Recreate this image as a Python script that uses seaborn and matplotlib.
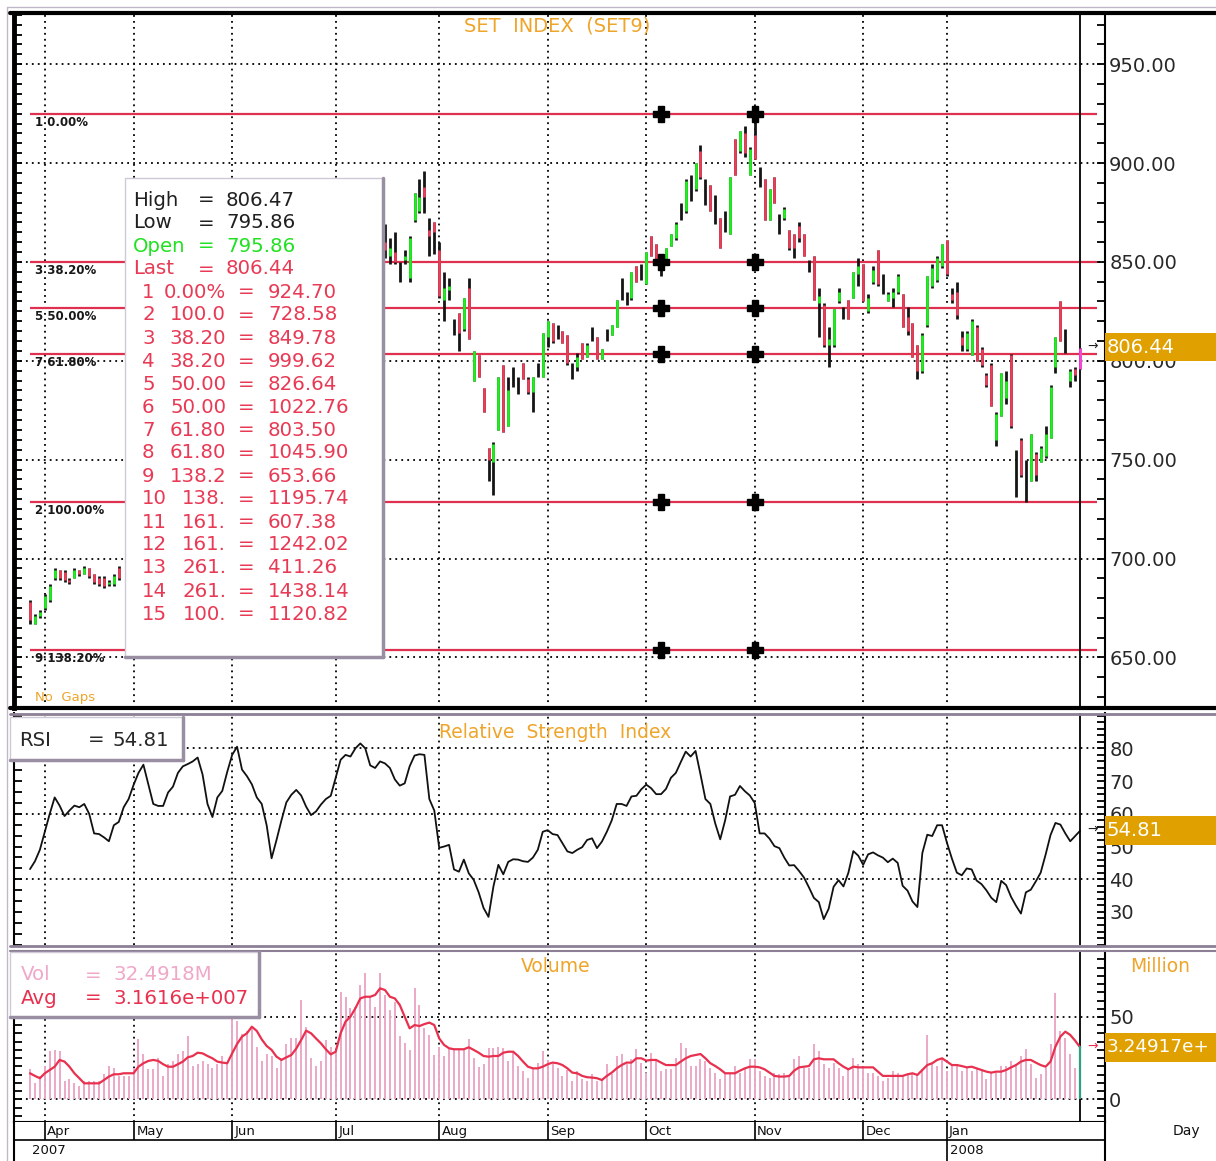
import numpy as np
import pandas as pd
import seaborn as sns
import matplotlib.pyplot as plt
from matplotlib.patches import Rectangle
from matplotlib.lines import Line2D
from matplotlib.ticker import MultipleLocator, FixedLocator, NullFormatter

# ---------------- data (one entry per session) ----------------
# first 19 sessions (end of March / April 2007)
apr_open = [678, 667, 671, 675, 679, 690, 694, 693, 689, 690, 694, 692, 695, 692, 690, 690, 687, 687, 695]
apr_high = [679, 672, 674, 682, 687, 695, 694, 694, 690, 695, 694, 696, 695, 692, 691, 691, 689, 692, 696]
apr_low = [667, 667, 670, 674, 678, 689, 689, 688, 687, 690, 691, 692, 690, 687, 686, 685, 686, 686, 689]
apr_close = [669, 671, 673, 681, 686, 694, 690, 689, 688, 694, 692, 695, 691, 688, 687, 686, 688, 691, 690]

# sessions covered by the data window (not visible in the picture)
hidden = [None] * 53

# sessions from late July 2007 to the last bar
late_open = [860, 853, 855, 847, 851, 842, 871, 876, 888, 866,
             870, 856, 831, 836, 818, 824, 816, 837, 790, 803,
             786, 756, 749, 765, 798, 767, 793, 788, 799, 791,
             784, 795, 792, 812, 819, 815, 815, 813, 796, 797,
             809, 802, 812, 812, 801, 812, 813, 817, 834, 832,
             832, 848, 845, 839, 863, 859, 848, 851, 858, 862,
             874, 876, 886, 887, 906, 888, 889, 878, 872, 870,
             864, 912, 906, 915, 894, 914, 894, 892, 871, 893,
             870, 872, 866, 864, 868, 864, 849, 853, 829, 828,
             808, 808, 830, 824, 831, 832, 844, 849, 825, 840,
             856, 840, 830, 832, 835, 834, 822, 819, 808, 795,
             818, 838, 841, 848, 861, 834, 835, 812, 806, 803,
             817, 806, 793, 798, 760, 772, 781, 803, 745, 760,
             743, 739, 753, 749, 752, 761, 797, 830, 810, 790,
             796, 795.86]
late_high = [869, 862, 865, 850, 856, 863, 885, 892, 896, 872,
             870, 860, 845, 842, 821, 824, 832, 842, 805, 803,
             786, 756, 759, 792, 798, 792, 797, 792, 799, 792,
             792, 799, 814, 820, 819, 818, 815, 813, 799, 804,
             809, 809, 817, 812, 806, 816, 818, 831, 842, 835,
             845, 848, 849, 855, 863, 859, 853, 857, 864, 870,
             880, 892, 894, 900, 909, 892, 889, 884, 872, 876,
             893, 912, 916, 919, 908, 924.7, 898, 892, 887, 893,
             874, 878, 866, 864, 870, 864, 851, 853, 837, 829,
             817, 826, 837, 827, 831, 845, 852, 849, 834, 848,
             856, 844, 835, 837, 844, 834, 827, 819, 808, 814,
             843, 849, 853, 859, 861, 837, 840, 815, 815, 821,
             818, 807, 794, 799, 774, 794, 795, 803.5, 755, 761,
             750, 763, 754, 757, 767, 788, 812, 830, 816, 796,
             797, 806.47]
late_low = [852, 849, 849, 840, 849, 840, 870, 875, 875, 853,
            854, 832, 820, 831, 813, 805, 815, 811, 790, 792,
            774, 739, 732, 765, 764, 767, 787, 783, 791, 783,
            774, 792, 792, 807, 809, 811, 809, 798, 791, 795,
            801, 802, 810, 801, 801, 810, 813, 817, 831, 828,
            831, 840, 841, 839, 853, 851, 843, 851, 858, 861,
            871, 875, 881, 886, 892, 879, 876, 869, 857, 865,
            864, 894, 905, 903, 894, 902, 888, 871, 871, 880,
            864, 871, 856, 852, 860, 853, 845, 831, 812, 807,
            797, 807, 829, 821, 821, 832, 838, 830, 824, 839,
            838, 834, 830, 827, 834, 817, 813, 802, 791, 794,
            817, 837, 840, 847, 843, 829, 821, 805, 805, 803,
            800, 797, 787, 777, 757, 772, 778, 766, 731, 741,
            728.6, 739, 739, 749, 751, 761, 794, 810, 804, 787,
            790, 795.86]
late_close = [856, 857, 850, 847, 853, 862, 885, 883, 883, 863,
              865, 833, 837, 838, 818, 814, 832, 811, 805, 792,
              774, 750, 758, 792, 764, 785, 793, 788, 791, 784,
              792, 795, 814, 820, 810, 815, 809, 799, 796, 802,
              801, 808, 812, 801, 806, 812, 818, 831, 834, 832,
              845, 840, 845, 855, 853, 851, 848, 857, 864, 869,
              874, 891, 886, 900, 893, 888, 876, 878, 857, 870,
              893, 894, 916, 905, 907, 902, 894, 871, 887, 880,
              870, 877, 857, 857, 862, 853, 849, 831, 833, 808,
              811, 826, 835, 824, 821, 845, 848, 830, 832, 846,
              839, 840, 834, 835, 843, 817, 815, 802, 795, 813,
              843, 847, 852, 859, 844, 831, 823, 808, 814, 820,
              800, 798, 788, 777, 773, 794, 790, 767, 745, 742,
              743, 763, 742, 756, 763, 787, 812, 810, 810, 795,
              793, 806.44]

opens = apr_open + hidden + late_open
highs = apr_high + hidden + late_high
lows = apr_low + hidden + late_low
closes = apr_close + hidden + late_close

rsi = [43.1, 45.5, 49.0, 54.5, 60.0, 65.0, 62.5, 59.3, 61.0, 62.5,
       62.0, 63.0, 60.0, 54.0, 53.8, 52.8, 51.6, 56.5, 57.5, 62.0,
       64.5, 68.8, 72.5, 75.0, 69.0, 63.0, 62.4, 62.4, 66.5, 68.3,
       72.5, 74.5, 75.2, 76.0, 77.2, 72.0, 63.0, 59.0, 65.0, 67.0,
       72.8, 78.0, 80.5, 73.5, 71.5, 69.0, 65.0, 63.0, 56.5, 46.4,
       52.0, 58.0, 63.5, 65.8, 67.3, 65.6, 62.2, 59.6, 60.7, 62.8,
       64.5, 65.5, 71.0, 76.5, 78.0, 77.5, 80.0, 81.5, 80.0, 74.8,
       74.0, 76.0, 75.4, 74.0, 70.5, 68.6, 69.3, 74.5, 77.8, 78.2,
       78.0, 64.5, 61.0, 49.6, 50.0, 50.5, 43.0, 42.3, 46.0, 41.8,
       39.8, 36.0, 31.2, 28.5, 37.8, 44.4, 41.5, 45.3, 46.1, 46.0,
       45.5, 45.3, 46.6, 49.0, 54.5, 55.0, 53.8, 53.5, 51.0, 48.5,
       48.0, 49.0, 49.8, 52.0, 52.5, 49.5, 51.5, 54.5, 58.0, 63.0,
       63.0, 62.4, 65.3, 65.5, 67.5, 68.9, 67.8, 66.0, 66.0, 67.6,
       71.0, 72.5, 75.8, 79.0, 77.5, 79.2, 72.0, 64.5, 63.0, 57.0,
       52.2, 58.0, 65.3, 65.8, 68.5, 66.9, 65.6, 63.3, 54.0, 54.0,
       52.4, 50.1, 49.5, 46.6, 44.2, 44.3, 42.5, 40.5, 37.5, 34.3,
       33.0, 27.8, 31.0, 37.7, 39.7, 37.8, 42.0, 48.6, 47.2, 44.4,
       47.6, 48.2, 47.3, 46.6, 45.2, 46.3, 45.0, 38.0, 36.5, 33.2,
       31.5, 48.0, 53.6, 53.2, 56.5, 56.5, 51.1, 46.3, 42.0, 41.2,
       43.3, 43.0, 39.6, 38.5, 36.6, 34.3, 33.0, 39.5, 38.2, 34.6,
       31.9, 29.5, 36.0, 36.8, 39.3, 42.0, 47.5, 53.5, 57.2, 56.7,
       54.0, 51.6, 53.2, 54.81]

# volume, millions of shares
volume = [18.2, 10.1, 14.2, 20.2, 29.4, 30.0, 29.4, 11.1, 12.1, 10.1,
          8.1, 11.1, 11.1, 11.1, 11.1, 15.2, 20.2, 19.2, 14.2, 14.2,
          14.2, 19.0, 36.4, 27.3, 18.2, 18.2, 25.3, 14.2, 21.3, 23.3,
          27.3, 29.4, 38.5, 20.2, 21.3, 23.3, 21.3, 19.2, 21.3, 26.3,
          21.3, 52.0, 47.6, 39.5, 41.5, 43.5, 32.0, 23.3, 27.3, 26.3,
          19.2, 25.3, 33.4, 37.4, 37.4, 60.3, 44.1, 25.3, 20.2, 23.3,
          36.0, 32.0, 30.0, 65.4, 62.3, 55.3, 56.3, 69.4, 76.9, 62.3,
          56.3, 76.9, 63.4, 54.3, 59.3, 38.5, 34.0, 30.0, 67.4, 57.3,
          43.1, 39.1, 26.9, 32.0, 26.3, 31.0, 30.4, 30.0, 30.0, 36.4,
          24.9, 19.4, 21.3, 31.0, 31.4, 32.0, 31.0, 23.3, 29.4, 20.2,
          17.2, 13.2, 19.2, 22.3, 29.4, 23.9, 21.3, 19.2, 14.2, 17.8,
          11.1, 17.2, 12.1, 11.1, 15.2, 11.1, 12.1, 21.3, 15.2, 26.3,
          27.3, 21.3, 24.3, 30.4, 22.3, 16.2, 28.3, 24.3, 17.2, 18.2,
          18.2, 25.3, 34.0, 31.0, 20.2, 20.2, 24.3, 23.3, 19.2, 16.2,
          12.1, 16.2, 16.2, 20.2, 16.2, 19.2, 24.3, 24.3, 17.2, 14.2,
          13.2, 16.2, 15.2, 16.2, 14.2, 24.3, 26.3, 19.2, 19.2, 33.4,
          29.4, 21.3, 19.2, 22.3, 18.8, 14.2, 18.2, 25.3, 21.3, 19.2,
          16.2, 16.2, 14.2, 11.1, 13.2, 17.2, 16.2, 14.2, 15.2, 16.2,
          15.2, 18.2, 39.1, 21.3, 20.2, 25.3, 17.2, 21.3, 21.3, 17.2,
          19.2, 17.2, 18.2, 17.2, 12.1, 16.2, 16.2, 20.2, 20.2, 23.3,
          21.3, 26.3, 30.4, 21.3, 13.2, 15.2, 19.2, 33.4, 64.8, 41.5,
          37.4, 27.3, 19.2, 32.49]

volume_avg = [15.8, 14.2, 12.8, 15.8, 17.8, 19.8, 23.9, 22.9, 19.8, 15.8,
              12.8, 9.7, 9.7, 9.7, 9.7, 11.7, 13.8, 15.2, 15.2, 15.8,
              15.8, 15.8, 19.8, 21.9, 23.3, 23.9, 23.3, 21.3, 19.8, 19.8,
              21.3, 22.9, 25.5, 26.3, 28.3, 27.9, 26.3, 24.9, 22.9, 22.3,
              21.9, 27.9, 33.6, 38.1, 40.1, 44.1, 41.5, 36.4, 32.4, 30.0,
              25.9, 23.9, 25.5, 26.9, 30.8, 36.0, 41.7, 40.1, 37.0, 34.0,
              30.4, 27.3, 28.9, 40.1, 47.2, 50.2, 55.3, 61.3, 62.3, 62.3,
              63.4, 67.4, 66.4, 62.3, 61.3, 57.3, 50.2, 43.1, 45.1, 44.5,
              45.7, 46.6, 45.1, 37.0, 33.0, 31.0, 30.4, 30.4, 30.4, 31.6,
              30.0, 28.3, 26.3, 25.9, 26.3, 26.3, 28.3, 28.9, 28.9, 26.3,
              22.9, 19.8, 18.8, 18.8, 19.8, 21.3, 22.3, 21.9, 20.8, 18.8,
              16.2, 15.8, 14.2, 13.4, 13.2, 12.8, 11.7, 14.2, 16.2, 18.8,
              20.8, 22.3, 22.3, 24.9, 24.9, 23.5, 23.9, 23.9, 22.3, 20.8,
              20.8, 20.8, 22.9, 24.9, 26.3, 26.9, 27.5, 24.9, 21.9, 20.2,
              18.2, 15.8, 15.8, 15.8, 17.4, 18.8, 19.8, 19.8, 19.4, 18.2,
              16.2, 14.2, 13.8, 13.8, 14.2, 17.4, 19.4, 19.8, 20.2, 24.3,
              24.9, 24.3, 24.3, 24.3, 21.9, 19.8, 18.2, 19.8, 19.4, 19.4,
              19.4, 19.4, 16.8, 14.2, 14.2, 14.2, 14.2, 14.2, 15.2, 15.8,
              14.8, 17.8, 20.8, 21.9, 23.9, 24.9, 22.9, 20.8, 20.8, 20.2,
              19.4, 19.8, 18.8, 17.8, 16.8, 16.2, 16.8, 16.8, 17.8, 19.4,
              20.8, 22.9, 23.9, 23.9, 22.3, 20.8, 19.8, 22.9, 32.0, 38.1,
              41.1, 39.1, 35.6, 31.6]

fib_levels = [924.70, 849.78, 826.64, 803.50, 728.58, 653.66]
fib_labels = ["1 0.00%", "3 38.20%", "5 50.00%", "7 61.80%", "2 100.00%", "9 138.20%"]
fib_anchor_bars = [128, 147.06]

month_names = ["Apr", "May", "Jun", "Jul", "Aug", "Sep", "Oct", "Nov", "Dec", "Jan"]
month_pos = [3.0, 21.1, 41.0, 62.1, 83.0, 105.0, 124.9, 147.0, 169.0, 185.9]
year_names = ["2007", "2008"]
year_pos = [0.4, 186.6]

price_ticks = [650, 700, 750, 800, 850, 900, 950]
rsi_ticks = [30, 40, 50, 60, 70, 80]
rsi_grid = [40, 60, 80]
vol_ticks = [0, 50]

info_head = [("High", "806.47", "#202020"), ("Low", "795.86", "#202020"),
             ("Open", "795.86", "#22E022"), ("Last", "806.44", "#E83A55")]
info_fib = [("1", "0.00%", "924.70"), ("2", "100.0", "728.58"), ("3", "38.20", "849.78"),
            ("4", "38.20", "999.62"), ("5", "50.00", "826.64"), ("6", "50.00", "1022.76"),
            ("7", "61.80", "803.50"), ("8", "61.80", "1045.90"), ("9", "138.2", "653.66"),
            ("10", "138.", "1195.74"), ("11", "161.", "607.38"), ("12", "161.", "1242.02"),
            ("13", "261.", "411.26"), ("14", "261.", "1438.14"), ("15", "100.", "1120.82")]

assert len(opens) == len(highs) == len(lows) == len(closes) == len(rsi) == len(volume) == len(volume_avg)

df = pd.DataFrame({"open": opens, "high": highs, "low": lows, "close": closes,
                   "rsi": rsi, "vol": volume, "avg": volume_avg}, dtype=float)
df["bar"] = np.arange(len(df))
last = df["bar"].iloc[-1]

# ---------------- style / layout ----------------
W, H = 1216, 1161
sns.set_style("white")
plt.rcParams["font.family"] = ["DejaVu Sans"]

ORANGE = "#EFA42A"
BOXORANGE = "#E0A000"
RED = "#E8405A"
FIBRED = "#E0304F"
GREEN = "#22EE22"
FRAME = "#8C7F96"
TXT = "#282828"
DOT = dict(colors="black", linestyles=(0, (1, 2.3)), linewidth=1.3, zorder=1)

fig = plt.figure(figsize=(W / 100, H / 100), dpi=100)
fig.patch.set_facecolor("white")


def fx(x):
    return x / W


def fy(y):
    return 1 - y / H


def add_ax(top, bottom):
    return fig.add_axes([fx(14), fy(bottom), (1105 - 14) / W, (bottom - top) / H])


XLIM = (-3.25, 218.05)
ax_p = add_ax(13, 708)
ax_r = add_ax(713, 945)
ax_v = add_ax(951, 1122)
ax_d = add_ax(1122, 1161)

for ax, ylim in ((ax_p, (624.4, 975.9)), (ax_r, (19.9, 90.8)), (ax_v, (-13.8, 90.1)), (ax_d, (0, 1))):
    ax.set_xlim(*XLIM)
    ax.set_ylim(*ylim)
    ax.set_facecolor("white")
    ax.set_xticks([])
    for s in ax.spines.values():
        s.set_visible(False)
    ax.spines["left"].set_visible(True)
    ax.spines["right"].set_visible(True)
    ax.spines["left"].set_color("black")
    ax.spines["right"].set_color("black")
    ax.spines["left"].set_linewidth(1.5)
    ax.spines["right"].set_linewidth(1.5)
ax_p.spines["left"].set_linewidth(3.5)
ax_v.spines["bottom"].set_visible(True)
ax_v.spines["bottom"].set_color("black")
ax_v.spines["bottom"].set_linewidth(1.5)
ax_d.set_yticks([])


def right_axis(ax, major, minor, fmt, left_step):
    ax.yaxis.tick_right()
    ax.yaxis.set_major_locator(FixedLocator(major))
    ax.yaxis.set_minor_locator(MultipleLocator(minor))
    ax.yaxis.set_major_formatter(fmt)
    ax.tick_params(axis="y", which="both", direction="in", length=5.5, width=1.3,
                   colors="black", labelcolor=TXT, labelsize=14, pad=3)
    sec = ax.secondary_yaxis("left")
    sec.yaxis.set_major_locator(MultipleLocator(left_step))
    sec.yaxis.set_major_formatter(NullFormatter())
    sec.tick_params(axis="y", direction="in", length=6, width=1.3, colors="black")
    sec.spines["left"].set_visible(False)


right_axis(ax_p, price_ticks, 10, "{x:.2f}", 5)
right_axis(ax_r, rsi_ticks, 2, "{x:.0f}", 10 / 3)
right_axis(ax_v, vol_ticks, 5, "{x:.0f}", 5)

# grids
ax_p.hlines(price_ticks, *XLIM, **DOT)
ax_p.vlines(month_pos, *ax_p.get_ylim(), **DOT)
ax_r.hlines(rsi_grid, *XLIM, **DOT)
ax_r.vlines(month_pos, *ax_r.get_ylim(), **DOT)
ax_v.hlines(vol_ticks, *XLIM, **DOT)
ax_v.vlines(month_pos, *ax_v.get_ylim(), **DOT)

# ---------------- price panel ----------------
bars = df.dropna(subset=["high"])
ax_p.vlines(bars["bar"], bars["low"], bars["high"], color="#151515", lw=2.0, zorder=3)
up = bars[bars["close"] > bars["open"]]
dn = bars[bars["close"] < bars["open"]]
ax_p.vlines(up["bar"], up["open"], up["close"], color=GREEN, lw=2.0, zorder=4)
ax_p.vlines(dn["bar"], dn["close"], dn["open"], color=RED, lw=2.0, zorder=4)
lb = df.iloc[-1]
ax_p.vlines([lb["bar"]], [lb["low"]], [lb["high"]], color="#FF40E0", lw=2.0, zorder=6)

ax_p.hlines(fib_levels, 0, 216.4, color=FIBRED, lw=1.6, zorder=2)
for lvl, lab in zip(fib_levels, fib_labels):
    ax_p.annotate(lab, (1.0, lvl), xytext=(0, -6.2), textcoords="offset points",
                  fontsize=8.5, fontweight="bold", color="#181818", va="center", ha="left", zorder=3)
    ax_p.plot(fib_anchor_bars, [lvl, lvl], ls="none", marker="P", ms=11,
              color="black", mec="black", zorder=5)

for ax in (ax_p, ax_r, ax_v):
    ax.axvline(last, color="black", lw=1.3, zorder=5)

# ---------------- RSI panel ----------------
sns.lineplot(data=df, x="bar", y="rsi", ax=ax_r, color="#111111", lw=1.3, zorder=4)

# ---------------- volume panel ----------------
vb = df.iloc[:-1]
ax_v.vlines(vb["bar"], 0, vb["vol"], color="#ECA8C8", lw=1.4, zorder=3)
ax_v.vlines([last], 0, [df["vol"].iloc[-1]], color="#2F9E80", lw=1.6, zorder=6)
sns.lineplot(data=df, x="bar", y="avg", ax=ax_v, color="#E8304F", lw=1.6, zorder=5)

for ax in (ax_p, ax_r, ax_v):
    ax.set_xlabel("")
    ax.set_ylabel("")

# ---------------- date band ----------------
ax_d.vlines(month_pos, 0.55, 1, color="black", lw=1.2)
ax_d.vlines([month_pos[-1]], 0, 0.55, color="black", lw=1.2)
ax_d.axhline(0.55, color="black", lw=1.2)
for pos, name in zip(month_pos, month_names):
    ax_d.text(pos + 0.5, 0.76, name, fontsize=9.5, va="center", ha="left", color="#101010")
for pos, name in zip(year_pos, year_names):
    ax_d.text(pos, 0.28, name, fontsize=9.5, va="center", ha="left", color="#101010")
fig.text(fx(1186), fy(1131), "Day", fontsize=10, ha="center", va="center", color="#101010")


# ---------------- frame lines ----------------
def hline(y, lw, color, x0=10, x1=W):
    fig.add_artist(Line2D([fx(x0), fx(x1)], [fy(y), fy(y)], color=color, lw=lw, zorder=8))


hline(13, 3, "black")
hline(708, 3, "black")
hline(714, 2, FRAME)
hline(946, 2, FRAME)
hline(951, 1.5, FRAME)
fig.add_artist(Line2D([fx(7), fx(7)], [fy(7), fy(H)], color="#C0B8C8", lw=1, zorder=8))
fig.add_artist(Line2D([fx(7), fx(W)], [fy(7), fy(7)], color="#C0B8C8", lw=1, zorder=8))


# ---------------- text boxes ----------------
def box(x0, y0, x1, y1):
    fig.add_artist(Rectangle((fx(x0), fy(y1)), (x1 - x0) / W, (y1 - y0) / H, transform=fig.transFigure,
                             facecolor="white", edgecolor="#D0C8D4", lw=1, zorder=10))
    fig.add_artist(Line2D([fx(x1), fx(x1)], [fy(y0), fy(y1)], color="#9A8FA2", lw=2.5, zorder=11))
    fig.add_artist(Line2D([fx(x0), fx(x1)], [fy(y1), fy(y1)], color="#9A8FA2", lw=2.5, zorder=11))


def t(x, y, s, color=TXT, ha="left", size=14.2, **kw):
    fig.text(fx(x), fy(y), s, color=color, ha=ha, va="center", fontsize=size, zorder=12, **kw)


def tag(y0, y1, s, arrow_color, size=14):
    fig.add_artist(Rectangle((fx(1105), fy(y1)), (W - 1105) / W, (y1 - y0) / H, transform=fig.transFigure,
                             facecolor=BOXORANGE, edgecolor="none", zorder=10))
    t(1107, (y0 + y1) / 2, s, color="white", size=size)
    t(1093, (y0 + y1) / 2 - 1, "\u2192", color=arrow_color, ha="center", size=9)


# price data window
box(125, 178, 383, 657)
for i, (lab, val, col) in enumerate(info_head):
    y = 200 + 23 * i
    t(133, y, lab, col)
    t(206, y, "=", col, ha="center")
    t(226, y, val, col)
for j, (num, pct, val) in enumerate(info_fib):
    y = 200 + 23 * (j + 4)
    t(142, y, num, "#E83A55")
    t(226, y, pct, "#E83A55", ha="right")
    t(246, y, "=", "#E83A55", ha="center")
    t(268, y, val, "#E83A55")

# RSI window
box(10, 717, 183, 760)
t(19, 740, "RSI", TXT)
t(96, 740, "=", TXT, ha="center")
t(112, 740, "54.81", TXT)

# volume window
box(10, 952, 259, 1017)
t(21, 975, "Vol", "#F0A8C8")
t(93, 975, "=", "#F0A8C8", ha="center")
t(113, 975, "32.4918M", "#F0A8C8")
t(21, 998, "Avg", "#E8304F")
t(93, 998, "=", "#E8304F", ha="center")
t(113, 998, "3.1616e+007", "#E8304F")

# last-value tags on the right (the volume tag is cut by the window edge)
tag(333, 361, "806.44", "#202020")
tag(816, 845, "54.81", "#202020")
tag(1033, 1062, "3.24917e+", "#E8304F", size=13.2)

# panel titles
t(557, 26, "SET  INDEX  (SET9)", ORANGE, ha="center", size=14)
t(555, 732, "Relative  Strength  Index", ORANGE, ha="center", size=13.5)
t(556, 967, "Volume", ORANGE, ha="center", size=13.5)
t(1160, 967, "Million", ORANGE, ha="center", size=13.5)
t(35, 697, "No  Gaps", ORANGE, size=9.5)

fig.savefig("out.png", dpi=100, facecolor="white")
